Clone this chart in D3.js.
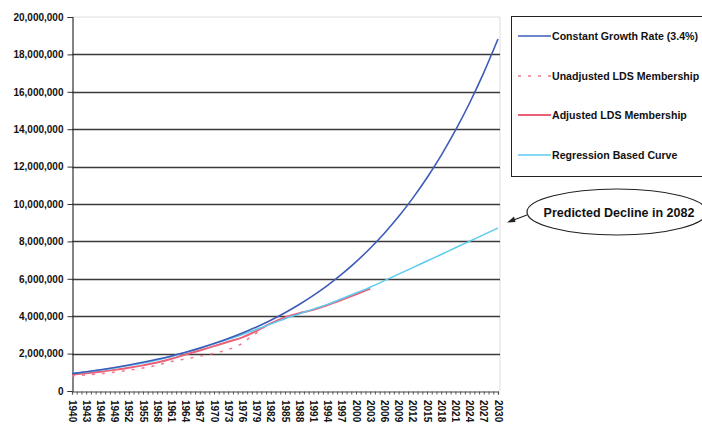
<!DOCTYPE html>
<html>
<head>
<meta charset="utf-8">
<script src="https://cdn.jsdelivr.net/npm/d3@7"></script>
<style>
  html, body { margin: 0; padding: 0; background: #fff; }
  svg { display: block; }
  text { font-family: "Liberation Sans", Arial, sans-serif; font-weight: bold; fill: #111; }
</style>
</head>
<body>
<svg id="chart" width="702" height="426"></svg>
<script>
// ---- Data ----
const years3 = [1940,1943,1946,1949,1952,1955,1958,1961,1964,1967,1970,1973,1976,1979,1982,1985,1988,1991,1994,1997,2000,2003,2006,2009,2012,2015,2018,2021,2024,2027,2030];

const constantGrowth = [0.930,1.028,1.136,1.256,1.389,1.535,1.697,1.876,2.074,2.293,2.535,2.802,3.097,3.424,3.785,4.184,4.625,5.113,5.652,6.248,6.907,7.635,8.440,9.330,10.314,11.402,12.604,13.933,15.402,17.026,18.820];

const regressionCurve = [0.93,1.02,1.12,1.23,1.36,1.50,1.66,1.85,2.06,2.28,2.52,2.76,3.02,3.30,3.58,3.86,4.12,4.38,4.63,4.93,5.24,5.55,5.90,6.25,6.60,6.95,7.30,7.66,8.01,8.36,8.72];

const adjustedYears = [1940,1943,1946,1949,1952,1955,1958,1961,1964,1967,1970,1973,1976,1979,1982,1985,1988,1991,1994,1997,2000,2003];
const adjustedMembership = [0.88,0.95,1.03,1.13,1.24,1.37,1.52,1.72,1.95,2.17,2.40,2.63,2.87,3.22,3.62,3.94,4.16,4.34,4.60,4.88,5.17,5.47];

const unadjustedYears = [1940,1943,1946,1949,1952,1955,1958,1961,1964,1967,1970,1973,1976,1978,1980];
const unadjustedMembership = [0.80,0.86,0.93,1.01,1.11,1.23,1.38,1.58,1.72,1.86,2.02,2.22,2.55,2.95,3.25];

const yTicks = [0,2000000,4000000,6000000,8000000,10000000,12000000,14000000,16000000,18000000,20000000];
const xTickLabels = ["1940","1943","1946","1949","1952","1955","1958","1961","1964","1967","1970","1973","1976","1979","1982","1985","1988","1991","1994","1997","2000","2003","2006","2009","2012","2015","2018","2021","2024","2027","2030"];

const legendLabels = ["Constant Growth Rate (3.4%)","Unadjusted LDS Membership","Adjusted LDS Membership","Regression Based Curve"];
const annotationText = "Predicted Decline in 2082";

// ---- Layout ----
const svg = d3.select("#chart");
const plot = { left: 72, right: 500, top: 17, bottom: 391 };

const x = d3.scaleLinear().domain([1940, 2030]).range([plot.left, 498]);
const y = d3.scaleLinear().domain([0, 20000000]).range([plot.bottom, plot.top]);

// faint plot border (top/right)
svg.append("path")
  .attr("d", `M${plot.left},${plot.top}H${plot.right}V${plot.bottom}`)
  .attr("fill", "none").attr("stroke", "#ddd").attr("stroke-width", 1);

// gridlines
svg.append("g").selectAll("line")
  .data(yTicks.filter(v => v > 0 && v < 20000000))
  .join("line")
  .attr("x1", plot.left).attr("x2", plot.right)
  .attr("y1", d => Math.round(y(d)) + 0.5).attr("y2", d => Math.round(y(d)) + 0.5)
  .attr("stroke", "#3a3a3a").attr("stroke-width", 1.3);

// y axis
const yAxis = d3.axisLeft(y).tickValues(yTicks).tickSize(5).tickPadding(4)
  .tickFormat(d3.format(","));
const gy = svg.append("g").attr("transform", `translate(${plot.left + 0.5},0)`).call(yAxis);
gy.select(".domain").attr("stroke", "#333").attr("stroke-width", 1.2);
gy.selectAll(".tick line").attr("stroke", "#333");
gy.selectAll(".tick text").style("font-size", "10px").style("font-weight", "bold")
  .attr("font-family", "Liberation Sans, Arial, sans-serif").attr("fill", "#111");

// x axis: minor ticks every year
const allYears = d3.range(1940, 2031);
const xAxis = d3.axisBottom(x).tickValues(allYears).tickSize(3).tickFormat("");
const gx = svg.append("g").attr("transform", `translate(0,${plot.bottom + 0.5})`).call(xAxis);
gx.select(".domain").attr("stroke", "#444").attr("stroke-width", 1.2);
gx.selectAll(".tick line").attr("stroke", "#555");

// x labels rotated
svg.append("g").selectAll("text")
  .data(xTickLabels)
  .join("text")
  .attr("transform", d => `translate(${x(+d)},400) rotate(90)`)
  .attr("dy", "0.35em")
  .attr("text-anchor", "start")
  .style("font-size", "10px")
  .text(d => d);

// lines
const line = d3.line().x(d => x(d[0])).y(d => y(d[1] * 1e6)).curve(d3.curveMonotoneX);

const series = [
  { years: unadjustedYears, vals: unadjustedMembership, color: "#f07a8a", width: 1.5, dash: "3,7" },
  { years: adjustedYears, vals: adjustedMembership, color: "#ec5f78", width: 2, dash: null },
  { years: years3, vals: regressionCurve, color: "#5ccbef", width: 1.5, dash: null },
  { years: years3, vals: constantGrowth, color: "#3d5cb8", width: 1.6, dash: null }
];
series.forEach(s => {
  svg.append("path")
    .datum(s.years.map((yr, i) => [yr, s.vals[i]]))
    .attr("d", line)
    .attr("fill", "none")
    .attr("stroke", s.color)
    .attr("stroke-width", s.width)
    .attr("stroke-dasharray", s.dash);
});

// legend
const legend = svg.append("g");
legend.append("rect").attr("x", 511.5).attr("y", 16.5).attr("width", 200).attr("height", 160)
  .attr("fill", "#fff").attr("stroke", "#222").attr("stroke-width", 1);
const legendStyle = [
  { color: "#3d5cb8", width: 1.5, dash: null },
  { color: "#f07a8a", width: 1.5, dash: "3,7" },
  { color: "#ec5f78", width: 2, dash: null },
  { color: "#5ccbef", width: 1.5, dash: null }
];
const rowY = [36, 76, 115, 155];
legendLabels.forEach((lab, i) => {
  legend.append("line").attr("x1", 518).attr("x2", 551).attr("y1", rowY[i]).attr("y2", rowY[i])
    .attr("stroke", legendStyle[i].color).attr("stroke-width", legendStyle[i].width)
    .attr("stroke-dasharray", legendStyle[i].dash);
  legend.append("text").attr("x", 552).attr("y", rowY[i]).attr("dy", "0.35em")
    .style("font-size", "10.6px").text(lab);
});

// annotation
const ann = svg.append("g");
ann.append("ellipse").attr("cx", 617).attr("cy", 212).attr("rx", 90).attr("ry", 23)
  .attr("fill", "#fff").attr("stroke", "#222").attr("stroke-width", 1.2);
ann.append("text").attr("x", 619).attr("y", 213).attr("dy", "0.35em").attr("text-anchor", "middle")
  .style("font-size", "12.5px").text(annotationText);
ann.append("line").attr("x1", 527).attr("y1", 215).attr("x2", 511).attr("y2", 221)
  .attr("stroke", "#222").attr("stroke-width", 1.2);
ann.append("path").attr("d", "M507,222.5 L514,216.5 L515.5,222 Z").attr("fill", "#222");
</script>
</body>
</html>
